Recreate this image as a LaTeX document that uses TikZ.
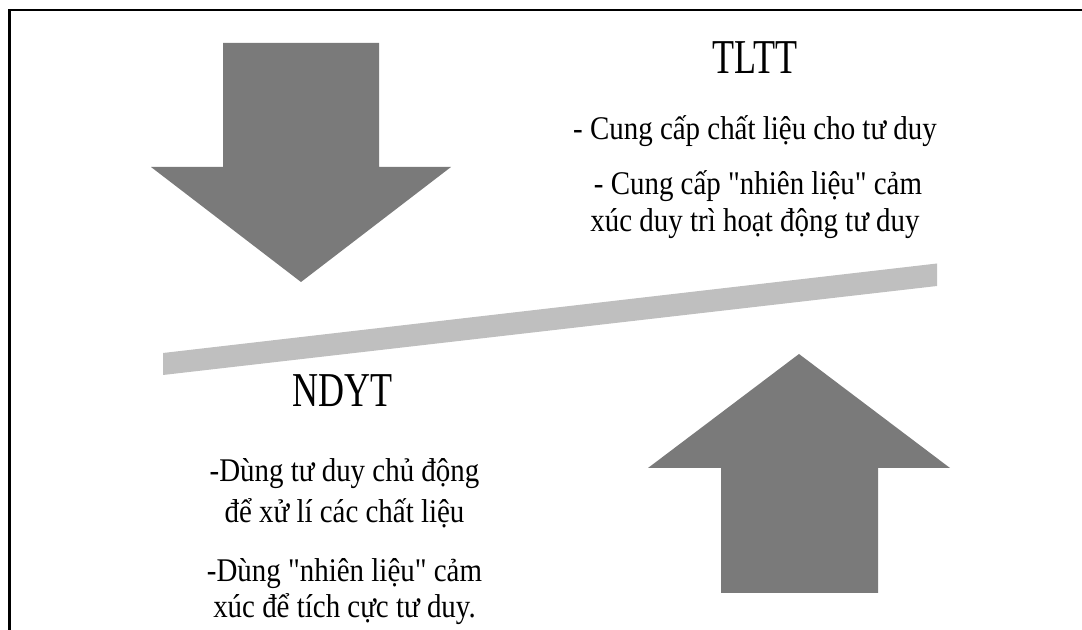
\documentclass[tikz,border=0pt]{standalone}
\usepackage{fontspec}
\setmainfont{Liberation Serif}
\newfontfamily\bodyfont[FakeStretch=0.875]{Liberation Serif}
\newfontfamily\titlefont[FakeStretch=0.74]{Liberation Serif}
\definecolor{arrowgray}{HTML}{7A7A7A}
\definecolor{bargray}{HTML}{BFBFBF}
\tikzset{
  titletext/.style={inner sep=0pt, anchor=base, font=\titlefont\fontsize{36.5}{40}\selectfont},
  bodytext/.style={inner sep=0pt, anchor=base, font=\bodyfont\fontsize{24.8}{28}\selectfont},
  bigarrow/.style={fill=arrowgray, draw=none},
  tiltbar/.style={fill=bargray, draw=none},
  frameline/.style={draw=black, line width=1.9pt}
}
\begin{document}
\begin{tikzpicture}[x=0.75pt,y=-0.75pt]
\useasboundingbox (0,0) rectangle (1082,630);
% frame (top and left edges)
\coordinate (fr1) at (1082,10);
\coordinate (fr2) at (9.5,10);
\coordinate (fr3) at (9.5,630);
\draw[frameline] (fr1) -- (fr2) -- (fr3);
% down arrow
\fill[bigarrow] (223,43) -- (379,43) -- (379,167) -- (451,167) -- (301,282) -- (151,167) -- (223,167) -- cycle;
% up arrow
\fill[bigarrow] (799,354) -- (950,468) -- (878,468) -- (878,593) -- (721,593) -- (721,468) -- (648,468) -- cycle;
% tilted bar
\fill[tiltbar] (163,353) -- (937,263.5) -- (937,286) -- (163,375) -- cycle;
% upper right text
\node[titletext] (tltt) at (755,74) {TLTT};
\node[bodytext] (t1) at (755,140) {- Cung cấp chất liệu cho tư duy};
\node[bodytext] (t2) at (758,195) {- Cung cấp "nhiên liệu" cảm};
\node[bodytext] (t3) at (755,232) {xúc duy trì hoạt động tư duy};
% lower left text
\node[titletext] (ndyt) at (343,407) {NDYT};
\node[bodytext] (n1) at (344.5,482) {-Dùng tư duy chủ động};
\node[bodytext] (n2) at (344.5,523) {để xử lí các chất liệu};
\node[bodytext] (n3) at (344.5,582) {-Dùng "nhiên liệu" cảm};
\node[bodytext] (n4) at (344.5,618) {xúc để tích cực tư duy.};
\end{tikzpicture}
\end{document}
